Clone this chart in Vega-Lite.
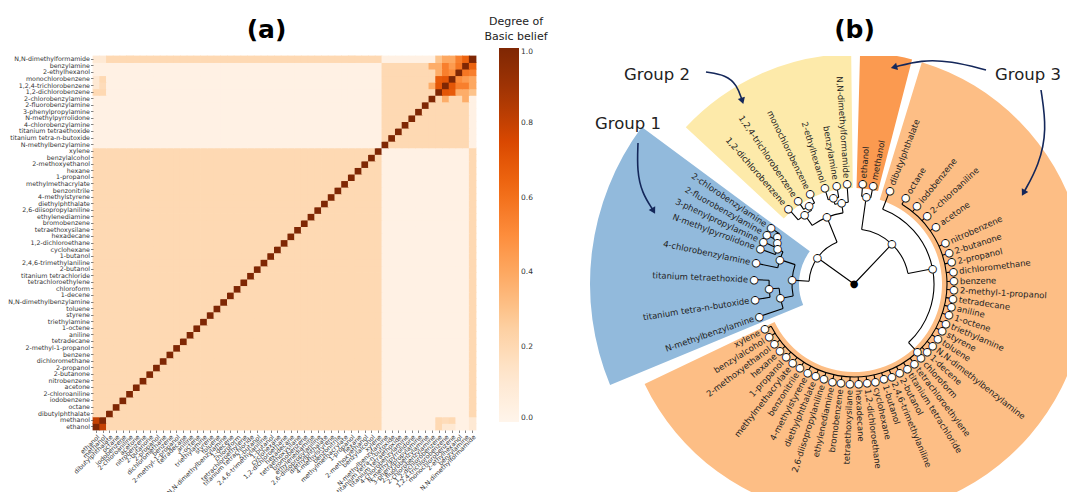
{
  "$schema": "https://vega.github.io/schema/vega-lite/v6.json",
  "background": "white",
  "padding": {"left": 7, "top": 16, "right": 0, "bottom": 0},
  "spacing": 14,
  "config": {"view": {"stroke": null}, "font": "DejaVu Sans", "title": {"font": "DejaVu Sans"}},
  "resolve": {"scale": {"color": "independent", "fill": "independent"}},
  "datasets": {
    "compounds": [
      {"k":1,"c":"ethanol","t":5,"pr":88,"lr":100},
      {"k":2,"c":"methanol","t":11,"pr":88,"lr":100},
      {"k":3,"c":"dibutylphthalate","t":21,"pr":80,"lr":100},
      {"k":4,"c":"octane","t":31,"pr":93,"lr":100},
      {"k":5,"c":"iodobenzene","t":39,"pr":93,"lr":100},
      {"k":6,"c":"2-chloroaniline","t":47,"pr":93,"lr":100},
      {"k":7,"c":"acetone","t":55,"pr":93,"lr":100},
      {"k":8,"c":"nitrobenzene","t":66,"pr":93,"lr":100},
      {"k":9,"c":"2-butanone","t":72,"pr":93,"lr":100},
      {"k":10,"c":"2-propanol","t":77.5,"pr":93,"lr":100},
      {"k":11,"c":"dichloromethane","t":83,"pr":93,"lr":100},
      {"k":12,"c":"benzene","t":88.5,"pr":93,"lr":100},
      {"k":13,"c":"2-methyl-1-propanol","t":93.4,"pr":93,"lr":100},
      {"k":14,"c":"tetradecane","t":98.4,"pr":93,"lr":100},
      {"k":15,"c":"aniline","t":103.3,"pr":93,"lr":100},
      {"k":16,"c":"1-octene","t":108.3,"pr":93,"lr":100},
      {"k":17,"c":"triethylamine","t":113.3,"pr":93,"lr":100},
      {"k":18,"c":"styrene","t":118.2,"pr":93,"lr":100},
      {"k":19,"c":"toluene","t":123.1,"pr":93,"lr":100},
      {"k":20,"c":"N,N-dimethylbenzylamine","t":128.1,"pr":93,"lr":100},
      {"k":21,"c":"1-decene","t":133.0,"pr":93,"lr":100},
      {"k":22,"c":"chloroform","t":138.0,"pr":93,"lr":100},
      {"k":23,"c":"tetrachloroethylene","t":142.9,"pr":93,"lr":100},
      {"k":24,"c":"titanium tetrachloride","t":147.8,"pr":93,"lr":100},
      {"k":25,"c":"2-butanol","t":152.8,"pr":93,"lr":100},
      {"k":26,"c":"2,4,6-trimethylaniline","t":157.7,"pr":93,"lr":100},
      {"k":27,"c":"1-butanol","t":162.7,"pr":93,"lr":100},
      {"k":28,"c":"cyclohexane","t":167.6,"pr":93,"lr":100},
      {"k":29,"c":"1,2-dichloroethane","t":172.5,"pr":93,"lr":100},
      {"k":30,"c":"hexadecane","t":177.4,"pr":93,"lr":100},
      {"k":31,"c":"tetraethoxysilane","t":182.4,"pr":93,"lr":100},
      {"k":32,"c":"bromobenzene","t":187.5,"pr":93,"lr":100},
      {"k":33,"c":"ethylenediamine","t":192.5,"pr":93,"lr":100},
      {"k":34,"c":"2,6-diisopropylaniline","t":197.6,"pr":93,"lr":100},
      {"k":35,"c":"diethylphthalate","t":202.6,"pr":93,"lr":100},
      {"k":36,"c":"4-methylstyrene","t":207.7,"pr":93,"lr":100},
      {"k":37,"c":"benzonitrile","t":212.7,"pr":93,"lr":100},
      {"k":38,"c":"methylmethacrylate","t":217.8,"pr":93,"lr":100},
      {"k":39,"c":"1-propanol","t":222.8,"pr":93,"lr":100},
      {"k":40,"c":"hexane","t":227.9,"pr":93,"lr":100},
      {"k":41,"c":"2-methoxyethanol","t":232.9,"pr":93,"lr":100},
      {"k":42,"c":"benzylalcohol","t":238.0,"pr":93,"lr":100},
      {"k":43,"c":"xylene","t":243.0,"pr":93,"lr":100},
      {"k":44,"c":"N-methylbenzylamine","t":251,"pr":75,"lr":100},
      {"k":45,"c":"titanium tetra-n-butoxide","t":261,"pr":85,"lr":100},
      {"k":46,"c":"titanium tetraethoxide","t":272.5,"pr":85,"lr":100},
      {"k":47,"c":"4-chlorobenzylamine","t":282,"pr":78,"lr":100},
      {"k":48,"c":"N-methylpyrrolidone","t":290.5,"pr":84,"lr":100},
      {"k":49,"c":"3-phenylpropylamine","t":295,"pr":87,"lr":100},
      {"k":50,"c":"2-fluorobenzylamine","t":299.5,"pr":90,"lr":100},
      {"k":51,"c":"2-chlorobenzylamine","t":304,"pr":90,"lr":100},
      {"k":52,"c":"1,2-dichlorobenzene","t":319,"pr":85,"lr":100},
      {"k":53,"c":"1,2,4-trichlorobenzene","t":326,"pr":90,"lr":100},
      {"k":54,"c":"monochlorobenzene","t":334,"pr":90,"lr":100},
      {"k":55,"c":"2-ethylhexanol","t":343,"pr":88,"lr":100},
      {"k":56,"c":"benzylamine","t":350,"pr":88,"lr":100},
      {"k":57,"c":"N,N-dimethylformamide","t":356,"pr":82,"lr":100}
    ],
    "matrix": [
      {"i":1,"r":"ethanol","v":[1,0.8,0.2,0.2,0.2,0.2,0.2,0.2,0.2,0.2,0.2,0.2,0.2,0.2,0.2,0.2,0.2,0.2,0.2,0.2,0.2,0.2,0.2,0.2,0.2,0.2,0.2,0.2,0.2,0.2,0.2,0.2,0.2,0.2,0.2,0.2,0.2,0.2,0.2,0.2,0.2,0.2,0.2,0.03,0.03,0.03,0.03,0.03,0.03,0.03,0.03,0.2,0.1,0.1,0.03,0.03,0.1]},
      {"i":2,"r":"methanol","v":[0.8,1,0.2,0.2,0.2,0.2,0.2,0.2,0.2,0.2,0.2,0.2,0.2,0.2,0.2,0.2,0.2,0.2,0.2,0.2,0.2,0.2,0.2,0.2,0.2,0.2,0.2,0.2,0.2,0.2,0.2,0.2,0.2,0.2,0.2,0.2,0.2,0.2,0.2,0.2,0.2,0.2,0.2,0.03,0.03,0.03,0.03,0.03,0.03,0.03,0.03,0.2,0.18,0.2,0.03,0.03,0.1]},
      {"i":3,"r":"dibutylphthalate","v":[0.2,0.2,1,0.2,0.2,0.2,0.2,0.2,0.2,0.2,0.2,0.2,0.2,0.2,0.2,0.2,0.2,0.2,0.2,0.2,0.2,0.2,0.2,0.2,0.2,0.2,0.2,0.2,0.2,0.2,0.2,0.2,0.2,0.2,0.2,0.2,0.2,0.2,0.2,0.2,0.2,0.2,0.2,0.03,0.03,0.03,0.03,0.03,0.03,0.03,0.03,0.03,0.03,0.03,0.03,0.03,0.2]},
      {"i":4,"r":"octane","v":[0.2,0.2,0.2,1,0.2,0.2,0.2,0.2,0.2,0.2,0.2,0.2,0.2,0.2,0.2,0.2,0.2,0.2,0.2,0.2,0.2,0.2,0.2,0.2,0.2,0.2,0.2,0.2,0.2,0.2,0.2,0.2,0.2,0.2,0.2,0.2,0.2,0.2,0.2,0.2,0.2,0.2,0.2,0.03,0.03,0.03,0.03,0.03,0.03,0.03,0.03,0.03,0.03,0.03,0.03,0.03,0.2]},
      {"i":5,"r":"iodobenzene","v":[0.2,0.2,0.2,0.2,1,0.2,0.2,0.2,0.2,0.2,0.2,0.2,0.2,0.2,0.2,0.2,0.2,0.2,0.2,0.2,0.2,0.2,0.2,0.2,0.2,0.2,0.2,0.2,0.2,0.2,0.2,0.2,0.2,0.2,0.2,0.2,0.2,0.2,0.2,0.2,0.2,0.2,0.2,0.03,0.03,0.03,0.03,0.03,0.03,0.03,0.03,0.03,0.03,0.03,0.03,0.03,0.2]},
      {"i":6,"r":"2-chloroaniline","v":[0.2,0.2,0.2,0.2,0.2,1,0.2,0.2,0.2,0.2,0.2,0.2,0.2,0.2,0.2,0.2,0.2,0.2,0.2,0.2,0.2,0.2,0.2,0.2,0.2,0.2,0.2,0.2,0.2,0.2,0.2,0.2,0.2,0.2,0.2,0.2,0.2,0.2,0.2,0.2,0.2,0.2,0.2,0.03,0.03,0.03,0.03,0.03,0.03,0.03,0.03,0.03,0.03,0.03,0.03,0.03,0.2]},
      {"i":7,"r":"acetone","v":[0.2,0.2,0.2,0.2,0.2,0.2,1,0.2,0.2,0.2,0.2,0.2,0.2,0.2,0.2,0.2,0.2,0.2,0.2,0.2,0.2,0.2,0.2,0.2,0.2,0.2,0.2,0.2,0.2,0.2,0.2,0.2,0.2,0.2,0.2,0.2,0.2,0.2,0.2,0.2,0.2,0.2,0.2,0.03,0.03,0.03,0.03,0.03,0.03,0.03,0.03,0.03,0.03,0.03,0.03,0.03,0.2]},
      {"i":8,"r":"nitrobenzene","v":[0.2,0.2,0.2,0.2,0.2,0.2,0.2,1,0.2,0.2,0.2,0.2,0.2,0.2,0.2,0.2,0.2,0.2,0.2,0.2,0.2,0.2,0.2,0.2,0.2,0.2,0.2,0.2,0.2,0.2,0.2,0.2,0.2,0.2,0.2,0.2,0.2,0.2,0.2,0.2,0.2,0.2,0.2,0.03,0.03,0.03,0.03,0.03,0.03,0.03,0.03,0.03,0.03,0.03,0.03,0.03,0.2]},
      {"i":9,"r":"2-butanone","v":[0.2,0.2,0.2,0.2,0.2,0.2,0.2,0.2,1,0.2,0.2,0.2,0.2,0.2,0.2,0.2,0.2,0.2,0.2,0.2,0.2,0.2,0.2,0.2,0.2,0.2,0.2,0.2,0.2,0.2,0.2,0.2,0.2,0.2,0.2,0.2,0.2,0.2,0.2,0.2,0.2,0.2,0.2,0.03,0.03,0.03,0.03,0.03,0.03,0.03,0.03,0.03,0.03,0.03,0.03,0.03,0.2]},
      {"i":10,"r":"2-propanol","v":[0.2,0.2,0.2,0.2,0.2,0.2,0.2,0.2,0.2,1,0.2,0.2,0.2,0.2,0.2,0.2,0.2,0.2,0.2,0.2,0.2,0.2,0.2,0.2,0.2,0.2,0.2,0.2,0.2,0.2,0.2,0.2,0.2,0.2,0.2,0.2,0.2,0.2,0.2,0.2,0.2,0.2,0.2,0.03,0.03,0.03,0.03,0.03,0.03,0.03,0.03,0.03,0.03,0.03,0.03,0.03,0.2]},
      {"i":11,"r":"dichloromethane","v":[0.2,0.2,0.2,0.2,0.2,0.2,0.2,0.2,0.2,0.2,1,0.2,0.2,0.2,0.2,0.2,0.2,0.2,0.2,0.2,0.2,0.2,0.2,0.2,0.2,0.2,0.2,0.2,0.2,0.2,0.2,0.2,0.2,0.2,0.2,0.2,0.2,0.2,0.2,0.2,0.2,0.2,0.2,0.03,0.03,0.03,0.03,0.03,0.03,0.03,0.03,0.03,0.03,0.03,0.03,0.03,0.2]},
      {"i":12,"r":"benzene","v":[0.2,0.2,0.2,0.2,0.2,0.2,0.2,0.2,0.2,0.2,0.2,1,0.2,0.2,0.2,0.2,0.2,0.2,0.2,0.2,0.2,0.2,0.2,0.2,0.2,0.2,0.2,0.2,0.2,0.2,0.2,0.2,0.2,0.2,0.2,0.2,0.2,0.2,0.2,0.2,0.2,0.2,0.2,0.03,0.03,0.03,0.03,0.03,0.03,0.03,0.03,0.03,0.03,0.03,0.03,0.03,0.2]},
      {"i":13,"r":"2-methyl-1-propanol","v":[0.2,0.2,0.2,0.2,0.2,0.2,0.2,0.2,0.2,0.2,0.2,0.2,1,0.2,0.2,0.2,0.2,0.2,0.2,0.2,0.2,0.2,0.2,0.2,0.2,0.2,0.2,0.2,0.2,0.2,0.2,0.2,0.2,0.2,0.2,0.2,0.2,0.2,0.2,0.2,0.2,0.2,0.2,0.03,0.03,0.03,0.03,0.03,0.03,0.03,0.03,0.03,0.03,0.03,0.03,0.03,0.2]},
      {"i":14,"r":"tetradecane","v":[0.2,0.2,0.2,0.2,0.2,0.2,0.2,0.2,0.2,0.2,0.2,0.2,0.2,1,0.2,0.2,0.2,0.2,0.2,0.2,0.2,0.2,0.2,0.2,0.2,0.2,0.2,0.2,0.2,0.2,0.2,0.2,0.2,0.2,0.2,0.2,0.2,0.2,0.2,0.2,0.2,0.2,0.2,0.03,0.03,0.03,0.03,0.03,0.03,0.03,0.03,0.03,0.03,0.03,0.03,0.03,0.2]},
      {"i":15,"r":"aniline","v":[0.2,0.2,0.2,0.2,0.2,0.2,0.2,0.2,0.2,0.2,0.2,0.2,0.2,0.2,1,0.2,0.2,0.2,0.2,0.2,0.2,0.2,0.2,0.2,0.2,0.2,0.2,0.2,0.2,0.2,0.2,0.2,0.2,0.2,0.2,0.2,0.2,0.2,0.2,0.2,0.2,0.2,0.2,0.03,0.03,0.03,0.03,0.03,0.03,0.03,0.03,0.03,0.03,0.03,0.03,0.03,0.2]},
      {"i":16,"r":"1-octene","v":[0.2,0.2,0.2,0.2,0.2,0.2,0.2,0.2,0.2,0.2,0.2,0.2,0.2,0.2,0.2,1,0.2,0.2,0.2,0.2,0.2,0.2,0.2,0.2,0.2,0.2,0.2,0.2,0.2,0.2,0.2,0.2,0.2,0.2,0.2,0.2,0.2,0.2,0.2,0.2,0.2,0.2,0.2,0.03,0.03,0.03,0.03,0.03,0.03,0.03,0.03,0.03,0.03,0.03,0.03,0.03,0.2]},
      {"i":17,"r":"triethylamine","v":[0.2,0.2,0.2,0.2,0.2,0.2,0.2,0.2,0.2,0.2,0.2,0.2,0.2,0.2,0.2,0.2,1,0.2,0.2,0.2,0.2,0.2,0.2,0.2,0.2,0.2,0.2,0.2,0.2,0.2,0.2,0.2,0.2,0.2,0.2,0.2,0.2,0.2,0.2,0.2,0.2,0.2,0.2,0.03,0.03,0.03,0.03,0.03,0.03,0.03,0.03,0.03,0.03,0.03,0.03,0.03,0.2]},
      {"i":18,"r":"styrene","v":[0.2,0.2,0.2,0.2,0.2,0.2,0.2,0.2,0.2,0.2,0.2,0.2,0.2,0.2,0.2,0.2,0.2,1,0.2,0.2,0.2,0.2,0.2,0.2,0.2,0.2,0.2,0.2,0.2,0.2,0.2,0.2,0.2,0.2,0.2,0.2,0.2,0.2,0.2,0.2,0.2,0.2,0.2,0.03,0.03,0.03,0.03,0.03,0.03,0.03,0.03,0.03,0.03,0.03,0.03,0.03,0.2]},
      {"i":19,"r":"toluene","v":[0.2,0.2,0.2,0.2,0.2,0.2,0.2,0.2,0.2,0.2,0.2,0.2,0.2,0.2,0.2,0.2,0.2,0.2,1,0.2,0.2,0.2,0.2,0.2,0.2,0.2,0.2,0.2,0.2,0.2,0.2,0.2,0.2,0.2,0.2,0.2,0.2,0.2,0.2,0.2,0.2,0.2,0.2,0.03,0.03,0.03,0.03,0.03,0.03,0.03,0.03,0.03,0.03,0.03,0.03,0.03,0.2]},
      {"i":20,"r":"N,N-dimethylbenzylamine","v":[0.2,0.2,0.2,0.2,0.2,0.2,0.2,0.2,0.2,0.2,0.2,0.2,0.2,0.2,0.2,0.2,0.2,0.2,0.2,1,0.2,0.2,0.2,0.2,0.2,0.2,0.2,0.2,0.2,0.2,0.2,0.2,0.2,0.2,0.2,0.2,0.2,0.2,0.2,0.2,0.2,0.2,0.2,0.03,0.03,0.03,0.03,0.03,0.03,0.03,0.03,0.03,0.03,0.03,0.03,0.03,0.2]},
      {"i":21,"r":"1-decene","v":[0.2,0.2,0.2,0.2,0.2,0.2,0.2,0.2,0.2,0.2,0.2,0.2,0.2,0.2,0.2,0.2,0.2,0.2,0.2,0.2,1,0.2,0.2,0.2,0.2,0.2,0.2,0.2,0.2,0.2,0.2,0.2,0.2,0.2,0.2,0.2,0.2,0.2,0.2,0.2,0.2,0.2,0.2,0.03,0.03,0.03,0.03,0.03,0.03,0.03,0.03,0.03,0.03,0.03,0.03,0.03,0.2]},
      {"i":22,"r":"chloroform","v":[0.2,0.2,0.2,0.2,0.2,0.2,0.2,0.2,0.2,0.2,0.2,0.2,0.2,0.2,0.2,0.2,0.2,0.2,0.2,0.2,0.2,1,0.2,0.2,0.2,0.2,0.2,0.2,0.2,0.2,0.2,0.2,0.2,0.2,0.2,0.2,0.2,0.2,0.2,0.2,0.2,0.2,0.2,0.03,0.03,0.03,0.03,0.03,0.03,0.03,0.03,0.03,0.03,0.03,0.03,0.03,0.2]},
      {"i":23,"r":"tetrachloroethylene","v":[0.2,0.2,0.2,0.2,0.2,0.2,0.2,0.2,0.2,0.2,0.2,0.2,0.2,0.2,0.2,0.2,0.2,0.2,0.2,0.2,0.2,0.2,1,0.2,0.2,0.2,0.2,0.2,0.2,0.2,0.2,0.2,0.2,0.2,0.2,0.2,0.2,0.2,0.2,0.2,0.2,0.2,0.2,0.03,0.03,0.03,0.03,0.03,0.03,0.03,0.03,0.03,0.03,0.03,0.03,0.03,0.2]},
      {"i":24,"r":"titanium tetrachloride","v":[0.2,0.2,0.2,0.2,0.2,0.2,0.2,0.2,0.2,0.2,0.2,0.2,0.2,0.2,0.2,0.2,0.2,0.2,0.2,0.2,0.2,0.2,0.2,1,0.2,0.2,0.2,0.2,0.2,0.2,0.2,0.2,0.2,0.2,0.2,0.2,0.2,0.2,0.2,0.2,0.2,0.2,0.2,0.03,0.03,0.03,0.03,0.03,0.03,0.03,0.03,0.03,0.03,0.03,0.03,0.03,0.2]},
      {"i":25,"r":"2-butanol","v":[0.2,0.2,0.2,0.2,0.2,0.2,0.2,0.2,0.2,0.2,0.2,0.2,0.2,0.2,0.2,0.2,0.2,0.2,0.2,0.2,0.2,0.2,0.2,0.2,1,0.2,0.2,0.2,0.2,0.2,0.2,0.2,0.2,0.2,0.2,0.2,0.2,0.2,0.2,0.2,0.2,0.2,0.2,0.03,0.03,0.03,0.03,0.03,0.03,0.03,0.03,0.03,0.03,0.03,0.03,0.03,0.2]},
      {"i":26,"r":"2,4,6-trimethylaniline","v":[0.2,0.2,0.2,0.2,0.2,0.2,0.2,0.2,0.2,0.2,0.2,0.2,0.2,0.2,0.2,0.2,0.2,0.2,0.2,0.2,0.2,0.2,0.2,0.2,0.2,1,0.2,0.2,0.2,0.2,0.2,0.2,0.2,0.2,0.2,0.2,0.2,0.2,0.2,0.2,0.2,0.2,0.2,0.03,0.03,0.03,0.03,0.03,0.03,0.03,0.03,0.03,0.03,0.03,0.03,0.03,0.2]},
      {"i":27,"r":"1-butanol","v":[0.2,0.2,0.2,0.2,0.2,0.2,0.2,0.2,0.2,0.2,0.2,0.2,0.2,0.2,0.2,0.2,0.2,0.2,0.2,0.2,0.2,0.2,0.2,0.2,0.2,0.2,1,0.2,0.2,0.2,0.2,0.2,0.2,0.2,0.2,0.2,0.2,0.2,0.2,0.2,0.2,0.2,0.2,0.03,0.03,0.03,0.03,0.03,0.03,0.03,0.03,0.03,0.03,0.03,0.03,0.03,0.2]},
      {"i":28,"r":"cyclohexane","v":[0.2,0.2,0.2,0.2,0.2,0.2,0.2,0.2,0.2,0.2,0.2,0.2,0.2,0.2,0.2,0.2,0.2,0.2,0.2,0.2,0.2,0.2,0.2,0.2,0.2,0.2,0.2,1,0.2,0.2,0.2,0.2,0.2,0.2,0.2,0.2,0.2,0.2,0.2,0.2,0.2,0.2,0.2,0.03,0.03,0.03,0.03,0.03,0.03,0.03,0.03,0.03,0.03,0.03,0.03,0.03,0.2]},
      {"i":29,"r":"1,2-dichloroethane","v":[0.2,0.2,0.2,0.2,0.2,0.2,0.2,0.2,0.2,0.2,0.2,0.2,0.2,0.2,0.2,0.2,0.2,0.2,0.2,0.2,0.2,0.2,0.2,0.2,0.2,0.2,0.2,0.2,1,0.2,0.2,0.2,0.2,0.2,0.2,0.2,0.2,0.2,0.2,0.2,0.2,0.2,0.2,0.03,0.03,0.03,0.03,0.03,0.03,0.03,0.03,0.03,0.03,0.03,0.03,0.03,0.2]},
      {"i":30,"r":"hexadecane","v":[0.2,0.2,0.2,0.2,0.2,0.2,0.2,0.2,0.2,0.2,0.2,0.2,0.2,0.2,0.2,0.2,0.2,0.2,0.2,0.2,0.2,0.2,0.2,0.2,0.2,0.2,0.2,0.2,0.2,1,0.2,0.2,0.2,0.2,0.2,0.2,0.2,0.2,0.2,0.2,0.2,0.2,0.2,0.03,0.03,0.03,0.03,0.03,0.03,0.03,0.03,0.03,0.03,0.03,0.03,0.03,0.2]},
      {"i":31,"r":"tetraethoxysilane","v":[0.2,0.2,0.2,0.2,0.2,0.2,0.2,0.2,0.2,0.2,0.2,0.2,0.2,0.2,0.2,0.2,0.2,0.2,0.2,0.2,0.2,0.2,0.2,0.2,0.2,0.2,0.2,0.2,0.2,0.2,1,0.2,0.2,0.2,0.2,0.2,0.2,0.2,0.2,0.2,0.2,0.2,0.2,0.03,0.03,0.03,0.03,0.03,0.03,0.03,0.03,0.03,0.03,0.03,0.03,0.03,0.2]},
      {"i":32,"r":"bromobenzene","v":[0.2,0.2,0.2,0.2,0.2,0.2,0.2,0.2,0.2,0.2,0.2,0.2,0.2,0.2,0.2,0.2,0.2,0.2,0.2,0.2,0.2,0.2,0.2,0.2,0.2,0.2,0.2,0.2,0.2,0.2,0.2,1,0.2,0.2,0.2,0.2,0.2,0.2,0.2,0.2,0.2,0.2,0.2,0.03,0.03,0.03,0.03,0.03,0.03,0.03,0.03,0.03,0.03,0.03,0.03,0.03,0.2]},
      {"i":33,"r":"ethylenediamine","v":[0.2,0.2,0.2,0.2,0.2,0.2,0.2,0.2,0.2,0.2,0.2,0.2,0.2,0.2,0.2,0.2,0.2,0.2,0.2,0.2,0.2,0.2,0.2,0.2,0.2,0.2,0.2,0.2,0.2,0.2,0.2,0.2,1,0.2,0.2,0.2,0.2,0.2,0.2,0.2,0.2,0.2,0.2,0.03,0.03,0.03,0.03,0.03,0.03,0.03,0.03,0.03,0.03,0.03,0.03,0.03,0.2]},
      {"i":34,"r":"2,6-diisopropylaniline","v":[0.2,0.2,0.2,0.2,0.2,0.2,0.2,0.2,0.2,0.2,0.2,0.2,0.2,0.2,0.2,0.2,0.2,0.2,0.2,0.2,0.2,0.2,0.2,0.2,0.2,0.2,0.2,0.2,0.2,0.2,0.2,0.2,0.2,1,0.2,0.2,0.2,0.2,0.2,0.2,0.2,0.2,0.2,0.03,0.03,0.03,0.03,0.03,0.03,0.03,0.03,0.03,0.03,0.03,0.03,0.03,0.2]},
      {"i":35,"r":"diethylphthalate","v":[0.2,0.2,0.2,0.2,0.2,0.2,0.2,0.2,0.2,0.2,0.2,0.2,0.2,0.2,0.2,0.2,0.2,0.2,0.2,0.2,0.2,0.2,0.2,0.2,0.2,0.2,0.2,0.2,0.2,0.2,0.2,0.2,0.2,0.2,1,0.2,0.2,0.2,0.2,0.2,0.2,0.2,0.2,0.03,0.03,0.03,0.03,0.03,0.03,0.03,0.03,0.03,0.03,0.03,0.03,0.03,0.2]},
      {"i":36,"r":"4-methylstyrene","v":[0.2,0.2,0.2,0.2,0.2,0.2,0.2,0.2,0.2,0.2,0.2,0.2,0.2,0.2,0.2,0.2,0.2,0.2,0.2,0.2,0.2,0.2,0.2,0.2,0.2,0.2,0.2,0.2,0.2,0.2,0.2,0.2,0.2,0.2,0.2,1,0.2,0.2,0.2,0.2,0.2,0.2,0.2,0.03,0.03,0.03,0.03,0.03,0.03,0.03,0.03,0.03,0.03,0.03,0.03,0.03,0.2]},
      {"i":37,"r":"benzonitrile","v":[0.2,0.2,0.2,0.2,0.2,0.2,0.2,0.2,0.2,0.2,0.2,0.2,0.2,0.2,0.2,0.2,0.2,0.2,0.2,0.2,0.2,0.2,0.2,0.2,0.2,0.2,0.2,0.2,0.2,0.2,0.2,0.2,0.2,0.2,0.2,0.2,1,0.2,0.2,0.2,0.2,0.2,0.2,0.03,0.03,0.03,0.03,0.03,0.03,0.03,0.03,0.03,0.03,0.03,0.03,0.03,0.2]},
      {"i":38,"r":"methylmethacrylate","v":[0.2,0.2,0.2,0.2,0.2,0.2,0.2,0.2,0.2,0.2,0.2,0.2,0.2,0.2,0.2,0.2,0.2,0.2,0.2,0.2,0.2,0.2,0.2,0.2,0.2,0.2,0.2,0.2,0.2,0.2,0.2,0.2,0.2,0.2,0.2,0.2,0.2,1,0.2,0.2,0.2,0.2,0.2,0.03,0.03,0.03,0.03,0.03,0.03,0.03,0.03,0.03,0.03,0.03,0.03,0.03,0.2]},
      {"i":39,"r":"1-propanol","v":[0.2,0.2,0.2,0.2,0.2,0.2,0.2,0.2,0.2,0.2,0.2,0.2,0.2,0.2,0.2,0.2,0.2,0.2,0.2,0.2,0.2,0.2,0.2,0.2,0.2,0.2,0.2,0.2,0.2,0.2,0.2,0.2,0.2,0.2,0.2,0.2,0.2,0.2,1,0.2,0.2,0.2,0.2,0.03,0.03,0.03,0.03,0.03,0.03,0.03,0.03,0.03,0.03,0.03,0.03,0.03,0.2]},
      {"i":40,"r":"hexane","v":[0.2,0.2,0.2,0.2,0.2,0.2,0.2,0.2,0.2,0.2,0.2,0.2,0.2,0.2,0.2,0.2,0.2,0.2,0.2,0.2,0.2,0.2,0.2,0.2,0.2,0.2,0.2,0.2,0.2,0.2,0.2,0.2,0.2,0.2,0.2,0.2,0.2,0.2,0.2,1,0.2,0.2,0.2,0.03,0.03,0.03,0.03,0.03,0.03,0.03,0.03,0.03,0.03,0.03,0.03,0.03,0.2]},
      {"i":41,"r":"2-methoxyethanol","v":[0.2,0.2,0.2,0.2,0.2,0.2,0.2,0.2,0.2,0.2,0.2,0.2,0.2,0.2,0.2,0.2,0.2,0.2,0.2,0.2,0.2,0.2,0.2,0.2,0.2,0.2,0.2,0.2,0.2,0.2,0.2,0.2,0.2,0.2,0.2,0.2,0.2,0.2,0.2,0.2,1,0.2,0.2,0.03,0.03,0.03,0.03,0.03,0.03,0.03,0.03,0.03,0.03,0.03,0.03,0.03,0.2]},
      {"i":42,"r":"benzylalcohol","v":[0.2,0.2,0.2,0.2,0.2,0.2,0.2,0.2,0.2,0.2,0.2,0.2,0.2,0.2,0.2,0.2,0.2,0.2,0.2,0.2,0.2,0.2,0.2,0.2,0.2,0.2,0.2,0.2,0.2,0.2,0.2,0.2,0.2,0.2,0.2,0.2,0.2,0.2,0.2,0.2,0.2,1,0.2,0.03,0.03,0.03,0.03,0.03,0.03,0.03,0.03,0.03,0.03,0.03,0.03,0.03,0.2]},
      {"i":43,"r":"xylene","v":[0.2,0.2,0.2,0.2,0.2,0.2,0.2,0.2,0.2,0.2,0.2,0.2,0.2,0.2,0.2,0.2,0.2,0.2,0.2,0.2,0.2,0.2,0.2,0.2,0.2,0.2,0.2,0.2,0.2,0.2,0.2,0.2,0.2,0.2,0.2,0.2,0.2,0.2,0.2,0.2,0.2,0.2,1,0.03,0.03,0.03,0.03,0.03,0.03,0.03,0.03,0.03,0.03,0.03,0.03,0.03,0.2]},
      {"i":44,"r":"N-methylbenzylamine","v":[0.03,0.03,0.03,0.03,0.03,0.03,0.03,0.03,0.03,0.03,0.03,0.03,0.03,0.03,0.03,0.03,0.03,0.03,0.03,0.03,0.03,0.03,0.03,0.03,0.03,0.03,0.03,0.03,0.03,0.03,0.03,0.03,0.03,0.03,0.03,0.03,0.03,0.03,0.03,0.03,0.03,0.03,0.03,1,0.2,0.2,0.2,0.2,0.2,0.2,0.2,0.2,0.2,0.2,0.2,0.2,0.03]},
      {"i":45,"r":"titanium tetra-n-butoxide","v":[0.03,0.03,0.03,0.03,0.03,0.03,0.03,0.03,0.03,0.03,0.03,0.03,0.03,0.03,0.03,0.03,0.03,0.03,0.03,0.03,0.03,0.03,0.03,0.03,0.03,0.03,0.03,0.03,0.03,0.03,0.03,0.03,0.03,0.03,0.03,0.03,0.03,0.03,0.03,0.03,0.03,0.03,0.03,0.2,1,0.2,0.2,0.2,0.2,0.2,0.2,0.2,0.2,0.2,0.2,0.2,0.03]},
      {"i":46,"r":"titanium tetraethoxide","v":[0.03,0.03,0.03,0.03,0.03,0.03,0.03,0.03,0.03,0.03,0.03,0.03,0.03,0.03,0.03,0.03,0.03,0.03,0.03,0.03,0.03,0.03,0.03,0.03,0.03,0.03,0.03,0.03,0.03,0.03,0.03,0.03,0.03,0.03,0.03,0.03,0.03,0.03,0.03,0.03,0.03,0.03,0.03,0.2,0.2,1,0.2,0.2,0.2,0.2,0.2,0.2,0.2,0.2,0.2,0.2,0.03]},
      {"i":47,"r":"4-chlorobenzylamine","v":[0.03,0.03,0.03,0.03,0.03,0.03,0.03,0.03,0.03,0.03,0.03,0.03,0.03,0.03,0.03,0.03,0.03,0.03,0.03,0.03,0.03,0.03,0.03,0.03,0.03,0.03,0.03,0.03,0.03,0.03,0.03,0.03,0.03,0.03,0.03,0.03,0.03,0.03,0.03,0.03,0.03,0.03,0.03,0.2,0.2,0.2,1,0.2,0.2,0.2,0.2,0.2,0.2,0.2,0.2,0.2,0.03]},
      {"i":48,"r":"N-methylpyrrolidone","v":[0.03,0.03,0.03,0.03,0.03,0.03,0.03,0.03,0.03,0.03,0.03,0.03,0.03,0.03,0.03,0.03,0.03,0.03,0.03,0.03,0.03,0.03,0.03,0.03,0.03,0.03,0.03,0.03,0.03,0.03,0.03,0.03,0.03,0.03,0.03,0.03,0.03,0.03,0.03,0.03,0.03,0.03,0.03,0.2,0.2,0.2,0.2,1,0.2,0.2,0.2,0.2,0.2,0.2,0.2,0.2,0.03]},
      {"i":49,"r":"3-phenylpropylamine","v":[0.03,0.03,0.03,0.03,0.03,0.03,0.03,0.03,0.03,0.03,0.03,0.03,0.03,0.03,0.03,0.03,0.03,0.03,0.03,0.03,0.03,0.03,0.03,0.03,0.03,0.03,0.03,0.03,0.03,0.03,0.03,0.03,0.03,0.03,0.03,0.03,0.03,0.03,0.03,0.03,0.03,0.03,0.03,0.2,0.2,0.2,0.2,0.2,1,0.2,0.2,0.2,0.2,0.2,0.2,0.2,0.03]},
      {"i":50,"r":"2-fluorobenzylamine","v":[0.03,0.03,0.03,0.03,0.03,0.03,0.03,0.03,0.03,0.03,0.03,0.03,0.03,0.03,0.03,0.03,0.03,0.03,0.03,0.03,0.03,0.03,0.03,0.03,0.03,0.03,0.03,0.03,0.03,0.03,0.03,0.03,0.03,0.03,0.03,0.03,0.03,0.03,0.03,0.03,0.03,0.03,0.03,0.2,0.2,0.2,0.2,0.2,0.2,1,0.2,0.2,0.2,0.2,0.2,0.2,0.03]},
      {"i":51,"r":"2-chlorobenzylamine","v":[0.03,0.03,0.03,0.03,0.03,0.03,0.03,0.03,0.03,0.03,0.03,0.03,0.03,0.03,0.03,0.03,0.03,0.03,0.03,0.03,0.03,0.03,0.03,0.03,0.03,0.03,0.03,0.03,0.03,0.03,0.03,0.03,0.03,0.03,0.03,0.03,0.03,0.03,0.03,0.03,0.03,0.03,0.03,0.2,0.2,0.2,0.2,0.2,0.2,0.2,1,0.2,0.38,0.2,0.2,0.38,0.03]},
      {"i":52,"r":"1,2-dichlorobenzene","v":[0.2,0.2,0.03,0.03,0.03,0.03,0.03,0.03,0.03,0.03,0.03,0.03,0.03,0.03,0.03,0.03,0.03,0.03,0.03,0.03,0.03,0.03,0.03,0.03,0.03,0.03,0.03,0.03,0.03,0.03,0.03,0.03,0.03,0.03,0.03,0.03,0.03,0.03,0.03,0.03,0.03,0.03,0.03,0.2,0.2,0.2,0.2,0.2,0.2,0.2,0.2,1,0.7,0.68,0.38,0.38,0.3]},
      {"i":53,"r":"1,2,4-trichlorobenzene","v":[0.1,0.18,0.03,0.03,0.03,0.03,0.03,0.03,0.03,0.03,0.03,0.03,0.03,0.03,0.03,0.03,0.03,0.03,0.03,0.03,0.03,0.03,0.03,0.03,0.03,0.03,0.03,0.03,0.03,0.03,0.03,0.03,0.03,0.03,0.03,0.03,0.03,0.03,0.03,0.03,0.03,0.03,0.03,0.2,0.2,0.2,0.2,0.2,0.2,0.2,0.38,0.7,1,0.7,0.55,0.55,0.4]},
      {"i":54,"r":"monochlorobenzene","v":[0.1,0.2,0.03,0.03,0.03,0.03,0.03,0.03,0.03,0.03,0.03,0.03,0.03,0.03,0.03,0.03,0.03,0.03,0.03,0.03,0.03,0.03,0.03,0.03,0.03,0.03,0.03,0.03,0.03,0.03,0.03,0.03,0.03,0.03,0.03,0.03,0.03,0.03,0.03,0.03,0.03,0.03,0.03,0.2,0.2,0.2,0.2,0.2,0.2,0.2,0.2,0.68,0.7,1,0.5,0.45,0.4]},
      {"i":55,"r":"2-ethylhexanol","v":[0.03,0.03,0.03,0.03,0.03,0.03,0.03,0.03,0.03,0.03,0.03,0.03,0.03,0.03,0.03,0.03,0.03,0.03,0.03,0.03,0.03,0.03,0.03,0.03,0.03,0.03,0.03,0.03,0.03,0.03,0.03,0.03,0.03,0.03,0.03,0.03,0.03,0.03,0.03,0.03,0.03,0.03,0.03,0.2,0.2,0.2,0.2,0.2,0.2,0.2,0.2,0.38,0.55,0.5,1,0.58,0.55]},
      {"i":56,"r":"benzylamine","v":[0.03,0.03,0.03,0.03,0.03,0.03,0.03,0.03,0.03,0.03,0.03,0.03,0.03,0.03,0.03,0.03,0.03,0.03,0.03,0.03,0.03,0.03,0.03,0.03,0.03,0.03,0.03,0.03,0.03,0.03,0.03,0.03,0.03,0.03,0.03,0.03,0.03,0.03,0.03,0.03,0.03,0.03,0.03,0.2,0.2,0.2,0.2,0.2,0.2,0.2,0.38,0.38,0.55,0.45,0.58,1,0.65]},
      {"i":57,"r":"N,N-dimethylformamide","v":[0.1,0.1,0.2,0.2,0.2,0.2,0.2,0.2,0.2,0.2,0.2,0.2,0.2,0.2,0.2,0.2,0.2,0.2,0.2,0.2,0.2,0.2,0.2,0.2,0.2,0.2,0.2,0.2,0.2,0.2,0.2,0.2,0.2,0.2,0.2,0.2,0.2,0.2,0.2,0.2,0.2,0.2,0.2,0.03,0.03,0.03,0.03,0.03,0.03,0.03,0.03,0.3,0.4,0.4,0.55,0.65,1]}
    ],
    "nodes": [
      {"t":137,"r":93,"pr":80,"a1":31,"a2":243},
      {"t":79,"r":80,"pr":55,"a1":21,"a2":137},
      {"t":8,"r":88,"pr":55,"a1":5,"a2":11},
      {"t":43.5,"r":55,"pr":0,"a1":8,"a2":79},
      {"t":330,"r":90,"pr":85,"a1":326,"a2":334},
      {"t":324.5,"r":85,"pr":72,"a1":319,"a2":330},
      {"t":346.5,"r":88,"pr":82,"a1":343,"a2":350},
      {"t":351.25,"r":82,"pr":72,"a1":346.5,"a2":356},
      {"t":337.9,"r":72,"pr":45,"a1":324.5,"a2":351.25},
      {"t":301.75,"r":90,"pr":87,"a1":299.5,"a2":304},
      {"t":298.4,"r":87,"pr":84,"a1":295,"a2":301.75},
      {"t":294.45,"r":84,"pr":78,"a1":290.5,"a2":298.4},
      {"t":288.2,"r":78,"pr":62,"a1":282,"a2":294.45},
      {"t":266.75,"r":85,"pr":75,"a1":261,"a2":272.5},
      {"t":258.9,"r":75,"pr":62,"a1":251,"a2":266.75},
      {"t":273.55,"r":62,"pr":45,"a1":258.9,"a2":288.2},
      {"t":305.7,"r":45,"pr":0,"a1":273.55,"a2":337.9},
      {"t":0,"r":0,"pr":0,"a1":0,"a2":0}
    ],
    "wedges": [
      {"g":"g1","t1":247.5,"t2":306.5,"r1":55,"r2":264},
      {"g":"g2","t1":313,"t2":359.3,"r1":96,"r2":230},
      {"g":"g3a","t1":1.5,"t2":14.5,"r1":96,"r2":232},
      {"g":"g3b","t1":17,"t2":244.5,"r1":88,"r2":232}
    ],
    "notes": [
      {"label":"Group 1","x":-226,"y":-160},
      {"label":"Group 2","x":-197,"y":-209},
      {"label":"Group 3","x":174,"y":-209}
    ],
    "arrows": [
      {"id":"a1","o":1,"x":-216,"y":-141},{"id":"a1","o":2,"x":-217,"y":-113},{"id":"a1","o":3,"x":-212,"y":-91},{"id":"a1","o":4,"x":-201,"y":-74},
      {"id":"a2","o":1,"x":-148,"y":-212},{"id":"a2","o":2,"x":-128,"y":-209},{"id":"a2","o":3,"x":-117,"y":-199},{"id":"a2","o":4,"x":-112,"y":-184},
      {"id":"a3","o":1,"x":132,"y":-214},{"id":"a3","o":2,"x":97,"y":-223},{"id":"a3","o":3,"x":67,"y":-224},{"id":"a3","o":4,"x":41,"y":-217},
      {"id":"a4","o":1,"x":187,"y":-194},{"id":"a4","o":2,"x":193,"y":-154},{"id":"a4","o":3,"x":185,"y":-119},{"id":"a4","o":4,"x":170,"y":-92}
    ],
    "heads": [
      {"id":"a1","x":-201,"y":-74,"dir":151},
      {"id":"a2","x":-112,"y":-184,"dir":162},
      {"id":"a3","x":41,"y":-217,"dir":255},
      {"id":"a4","x":170,"y":-92,"dir":209}
    ]
  },
  "hconcat": [
    {
      "width": 383,
      "height": 374,
      "title": {"text": "(a)", "fontSize": 25, "fontWeight": "bold", "offset": -27, "dx": -18},
      "data": {"name": "matrix"},
      "transform": [
        {"flatten": ["v"], "as": ["val"]},
        {"window": [{"op": "row_number", "as": "k"}], "groupby": ["i"]},
        {"lookup": "k", "from": {"data": {"name": "compounds"}, "key": "k", "fields": ["c"]}}
      ],
      "mark": {"type": "rect", "width": {"band": 1.12}, "height": {"band": 1.12}},
      "encoding": {
        "x": {"field": "c", "type": "nominal", "sort": {"field": "k", "op": "min"},
              "scale": {"paddingInner": 0, "paddingOuter": 0},
              "axis": {"title": null, "domain": false, "labelAngle": -45, "tickSize": 2.5, "tickWidth": 0.6, "tickColor": "#333",
                       "labelFontSize": 6.3, "labelColor": "#333", "labelPadding": 1, "labelOverlap": false}},
        "y": {"field": "r", "type": "nominal", "sort": {"field": "i", "op": "min", "order": "descending"},
              "scale": {"paddingInner": 0, "paddingOuter": 0},
              "axis": {"title": null, "domain": false, "tickSize": 2.5, "tickWidth": 0.6, "tickColor": "#333",
                       "labelFontSize": 6.3, "labelColor": "#333", "labelPadding": 1, "labelOverlap": false}},
        "color": {"field": "val", "type": "quantitative",
                  "scale": {"domain": [0, 0.125, 0.25, 0.375, 0.5, 0.625, 0.75, 0.875, 1],
                            "range": ["#fff5eb", "#fee6ce", "#fdd0a2", "#fdae6b", "#fd8d3c", "#f16913", "#d94801", "#a63603", "#7f2704"]},
                  "legend": {"type": "gradient", "orient": "none", "legendX": 391, "legendY": -40, "title": ["Degree of", "Basic belief"],
                             "titleFontSize": 11, "titleFontWeight": "normal", "titleAlign": "center", "titleAnchor": "middle",
                             "titleColor": "#222", "titlePadding": 6, "titleLineHeight": 15,
                             "gradientLength": 374, "gradientThickness": 20, "gradientStrokeWidth": 0,
                             "labelFontSize": 7.5, "labelColor": "#333", "format": ".1f", "values": [0, 0.2, 0.4, 0.6, 0.8, 1]}}
      }
    },
    {
      "width": 507,
      "height": 436,
      "title": {"text": "(b)", "fontSize": 25, "fontWeight": "bold", "offset": 13, "dx": 39},
      "layer": [
        {
          "data": {"name": "wedges"},
          "mark": {"type": "arc", "clip": true},
          "encoding": {
            "x": {"datum": 0, "type": "quantitative", "scale": {"domain": [-292, 215], "nice": false, "zero": false}, "axis": null},
            "y": {"datum": 0, "type": "quantitative", "scale": {"domain": [-228, 208], "reverse": true, "nice": false, "zero": false}, "axis": null},
            "theta": {"field": "t1", "type": "quantitative", "scale": {"domain": [0, 360], "range": [0, 6.283185307179586]}, "stack": null},
            "theta2": {"field": "t2"},
            "radius": {"field": "r1", "type": "quantitative", "scale": {"type": "linear", "domain": [0, 300], "range": [0, 300], "zero": true}},
            "radius2": {"field": "r2"},
            "fill": {"field": "g", "type": "nominal", "scale": {"domain": ["g1", "g2", "g3a", "g3b"], "range": ["#92badc", "#fdeaaa", "#fb9a50", "#fdbe85"]}, "legend": null}
          }
        },
        {
          "data": {"name": "compounds"},
          "mark": {"type": "arc", "filled": false, "stroke": "black", "strokeWidth": 1.1},
          "encoding": {
            "x": {"datum": 0, "type": "quantitative", "scale": {"domain": [-292, 215], "nice": false, "zero": false}, "axis": null},
            "y": {"datum": 0, "type": "quantitative", "scale": {"domain": [-228, 208], "reverse": true, "nice": false, "zero": false}, "axis": null},
            "theta": {"field": "t", "type": "quantitative", "scale": {"domain": [0, 360], "range": [0, 6.283185307179586]}, "stack": null},
            "theta2": {"field": "t"},
            "radius": {"field": "pr", "type": "quantitative", "scale": {"type": "linear", "domain": [0, 300], "range": [0, 300], "zero": true}},
            "radius2": {"field": "lr"}
          }
        },
        {
          "data": {"name": "nodes"},
          "transform": [{"filter": "datum.r > 0"}],
          "mark": {"type": "arc", "filled": false, "stroke": "black", "strokeWidth": 1.1},
          "encoding": {
            "x": {"datum": 0, "type": "quantitative", "scale": {"domain": [-292, 215], "nice": false, "zero": false}, "axis": null},
            "y": {"datum": 0, "type": "quantitative", "scale": {"domain": [-228, 208], "reverse": true, "nice": false, "zero": false}, "axis": null},
            "theta": {"field": "t", "type": "quantitative", "scale": {"domain": [0, 360], "range": [0, 6.283185307179586]}, "stack": null},
            "theta2": {"field": "t"},
            "radius": {"field": "pr", "type": "quantitative", "scale": {"type": "linear", "domain": [0, 300], "range": [0, 300], "zero": true}},
            "radius2": {"field": "r"}
          }
        },
        {
          "data": {"name": "nodes"},
          "transform": [{"filter": "datum.r > 0"}],
          "mark": {"type": "arc", "filled": false, "stroke": "black", "strokeWidth": 1.1},
          "encoding": {
            "x": {"datum": 0, "type": "quantitative", "scale": {"domain": [-292, 215], "nice": false, "zero": false}, "axis": null},
            "y": {"datum": 0, "type": "quantitative", "scale": {"domain": [-228, 208], "reverse": true, "nice": false, "zero": false}, "axis": null},
            "theta": {"field": "a1", "type": "quantitative", "scale": {"domain": [0, 360], "range": [0, 6.283185307179586]}, "stack": null},
            "theta2": {"field": "a2"},
            "radius": {"field": "r", "type": "quantitative", "scale": {"type": "linear", "domain": [0, 300], "range": [0, 300], "zero": true}},
            "radius2": {"field": "r"}
          }
        },
        {
          "data": {"name": "compounds"},
          "mark": {"type": "text", "text": "●", "fontSize": 10, "fill": "white", "stroke": "black", "strokeWidth": 0.8, "align": "center", "baseline": "middle"},
          "encoding": {
            "x": {"datum": 0, "type": "quantitative", "scale": {"domain": [-292, 215], "nice": false, "zero": false}, "axis": null},
            "y": {"datum": 0, "type": "quantitative", "scale": {"domain": [-228, 208], "reverse": true, "nice": false, "zero": false}, "axis": null},
            "theta": {"field": "t", "type": "quantitative", "scale": {"domain": [0, 360], "range": [0, 6.283185307179586]}, "stack": null},
            "radius": {"field": "lr", "type": "quantitative", "scale": {"type": "linear", "domain": [0, 300], "range": [0, 300], "zero": true}}
          }
        },
        {
          "data": {"name": "nodes"},
          "transform": [{"filter": "datum.r > 0"}],
          "mark": {"type": "text", "text": "●", "fontSize": 10, "fill": "white", "stroke": "black", "strokeWidth": 0.8, "align": "center", "baseline": "middle"},
          "encoding": {
            "x": {"datum": 0, "type": "quantitative", "scale": {"domain": [-292, 215], "nice": false, "zero": false}, "axis": null},
            "y": {"datum": 0, "type": "quantitative", "scale": {"domain": [-228, 208], "reverse": true, "nice": false, "zero": false}, "axis": null},
            "theta": {"field": "t", "type": "quantitative", "scale": {"domain": [0, 360], "range": [0, 6.283185307179586]}, "stack": null},
            "radius": {"field": "r", "type": "quantitative", "scale": {"type": "linear", "domain": [0, 300], "range": [0, 300], "zero": true}}
          }
        },
        {
          "data": {"name": "nodes"},
          "transform": [{"filter": "datum.r == 0"}],
          "mark": {"type": "text", "text": "●", "fontSize": 10, "fill": "black", "align": "center", "baseline": "middle"},
          "encoding": {
            "x": {"datum": 0, "type": "quantitative", "scale": {"domain": [-292, 215], "nice": false, "zero": false}, "axis": null},
            "y": {"datum": 0, "type": "quantitative", "scale": {"domain": [-228, 208], "reverse": true, "nice": false, "zero": false}, "axis": null}
          }
        },
        {
          "data": {"name": "compounds"},
          "mark": {"type": "text", "fontSize": 8.5, "color": "#222", "baseline": "middle", "radiusOffset": 6,
                   "angle": {"expr": "datum.t < 180 ? datum.t - 90 : datum.t - 270"},
                   "align": {"expr": "datum.t < 180 ? 'left' : 'right'"}},
          "encoding": {
            "x": {"datum": 0, "type": "quantitative", "scale": {"domain": [-292, 215], "nice": false, "zero": false}, "axis": null},
            "y": {"datum": 0, "type": "quantitative", "scale": {"domain": [-228, 208], "reverse": true, "nice": false, "zero": false}, "axis": null},
            "theta": {"field": "t", "type": "quantitative", "scale": {"domain": [0, 360], "range": [0, 6.283185307179586]}, "stack": null},
            "radius": {"field": "lr", "type": "quantitative", "scale": {"type": "linear", "domain": [0, 300], "range": [0, 300], "zero": true}},
            "text": {"field": "c"}
          }
        },
        {
          "data": {"name": "notes"},
          "mark": {"type": "text", "fontSize": 16.5, "color": "#222", "align": "center", "baseline": "middle"},
          "encoding": {
            "x": {"field": "x", "type": "quantitative", "scale": {"domain": [-292, 215], "nice": false, "zero": false}, "axis": null},
            "y": {"field": "y", "type": "quantitative", "scale": {"domain": [-228, 208], "reverse": true, "nice": false, "zero": false}, "axis": null},
            "text": {"field": "label"}
          }
        },
        {
          "data": {"name": "arrows"},
          "mark": {"type": "line", "interpolate": "basis", "color": "#14275a", "strokeWidth": 1.6},
          "encoding": {
            "x": {"field": "x", "type": "quantitative", "scale": {"domain": [-292, 215], "nice": false, "zero": false}, "axis": null},
            "y": {"field": "y", "type": "quantitative", "scale": {"domain": [-228, 208], "reverse": true, "nice": false, "zero": false}, "axis": null},
            "detail": {"field": "id"},
            "order": {"field": "o"}
          }
        },
        {
          "data": {"name": "heads"},
          "mark": {"type": "point", "shape": "triangle", "filled": true, "color": "#14275a", "size": 55, "opacity": 1},
          "encoding": {
            "x": {"field": "x", "type": "quantitative", "scale": {"domain": [-292, 215], "nice": false, "zero": false}, "axis": null},
            "y": {"field": "y", "type": "quantitative", "scale": {"domain": [-228, 208], "reverse": true, "nice": false, "zero": false}, "axis": null},
            "angle": {"field": "dir", "type": "quantitative", "scale": null}
          }
        }
      ]
    }
  ]
}
